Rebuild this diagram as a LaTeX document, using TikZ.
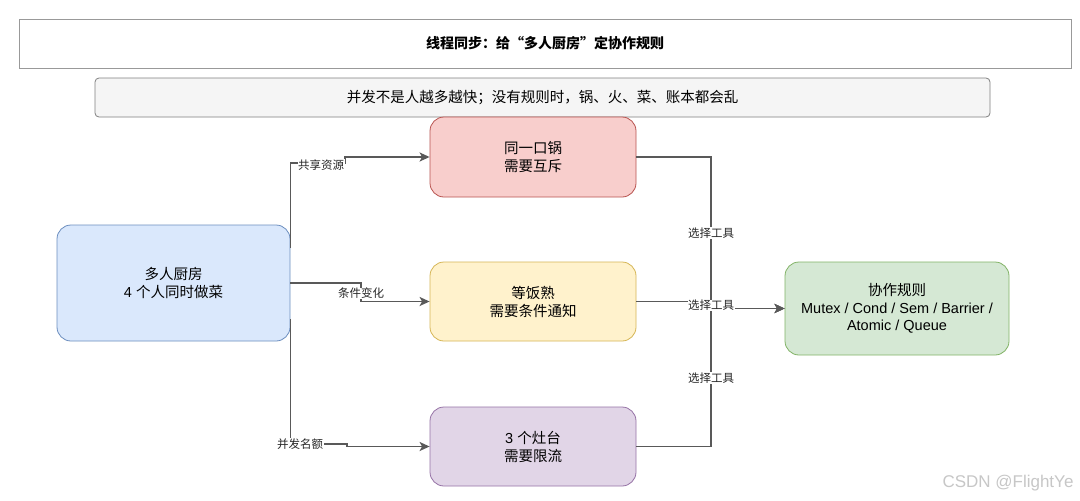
\documentclass[tikz,border=0pt]{standalone}
\usepackage{fontspec}
\setmainfont{Liberation Sans}
\newfontfamily\cjk{Noto Sans CJK SC}
\usetikzlibrary{arrows.meta}
\definecolor{lineg}{HTML}{595959}
\definecolor{bluef}{HTML}{DAE8FC}\definecolor{blued}{HTML}{6C8EBF}
\definecolor{redf}{HTML}{F8CECC}\definecolor{redd}{HTML}{B85450}
\definecolor{yelf}{HTML}{FFF2CC}\definecolor{yeld}{HTML}{D6B656}
\definecolor{purf}{HTML}{E1D5E7}\definecolor{purd}{HTML}{9673A6}
\definecolor{grnf}{HTML}{D5E8D4}\definecolor{grnd}{HTML}{82B366}
\begin{document}
\begin{tikzpicture}[x=1pt,y=-1pt,
  box/.style={draw, rounded corners=14pt, line width=0.8pt, align=center, inner sep=0pt,
    font=\fontsize{14.5}{18}\selectfont},
  arr/.style={draw=lineg, line width=1.8pt, -{Stealth[length=10pt,width=9pt,inset=2.5pt]}},
  lbl/.style={fill=white, inner sep=0.5pt, font=\cjk\fontsize{11.5}{13}\selectfont, text=black!85}]
\useasboundingbox (0,0) rectangle (1080,501);
\fill[white] (0,0) rectangle (1080,501);

\node[draw=black!40, line width=0.9pt, minimum width=1052pt, minimum height=49pt, inner sep=0pt,
  font=\cjk\bfseries\fontsize{14}{17}\selectfont] (title) at (545,43.5) {线程同步：给“多人厨房”定协作规则};
\node[draw=black!50, fill=black!4, rounded corners=4pt, line width=0.8pt, minimum width=895pt,
  minimum height=39pt, inner sep=0pt, font=\cjk\fontsize{14.5}{17}\selectfont] (sub) at (542.5,97.5)
  {并发不是人越多越快；没有规则时，锅、火、菜、账本都会乱};

\node[box, fill=bluef, draw=blued, minimum width=233pt, minimum height=116pt] (blue) at (173.5,283)
  {{\cjk 多人厨房}\\4 {\cjk 个人同时做菜}};
\node[box, fill=redf, draw=redd, minimum width=206pt, minimum height=80pt] (red) at (533,157)
  {\cjk 同一口锅\\\cjk 需要互斥};
\node[box, fill=yelf, draw=yeld, minimum width=206pt, minimum height=79pt] (yel) at (533,301.5)
  {\cjk 等饭熟\\\cjk 需要条件通知};
\node[box, fill=purf, draw=purd, minimum width=206pt, minimum height=79pt] (pur) at (533,446.5)
  {3 {\cjk 个灶台}\\\cjk 需要限流};
\node[box, fill=grnf, draw=grnd, minimum width=224pt, minimum height=93pt,
  font=\fontsize{14.5}{17.5}\selectfont] (grn) at (897,308.5)
  {{\cjk 协作规则}\\Mutex / Cond / Sem / Barrier /\\Atomic / Queue};

\coordinate (j1) at (345,163);
\coordinate (j2) at (361,283);
\coordinate (j3) at (347,444);
\coordinate (jr) at (711,308.5);

\draw[arr] ([yshift=35pt]blue.east) |- (j1) |- (red.west);
\draw[arr] (blue.east) -- (j2) |- (yel.west);
\draw[arr] ([yshift=-36pt]blue.east) |- (j3) |- (pur.west);
\draw[arr] (red.east) -| (jr) -- (grn.west);
\draw[arr] (yel.east) -| (jr) -- (grn.west);
\draw[arr] (pur.east) -| (jr) -- (grn.west);

\node[lbl] (l1) at (321,165) {共享资源};
\node[lbl] (l2) at (361,293.5) {条件变化};
\node[lbl] (l3) at (300,444) {并发名额};
\node[lbl] (r1) at (711,233) {选择工具};
\node[lbl] (r2) at (711,305.5) {选择工具};
\node[lbl] (r3) at (711,378) {选择工具};

\node[text=black!22, font=\fontsize{17}{20}\selectfont, anchor=east] (wm) at (1077,483) {CSDN @FlightYe};
\end{tikzpicture}
\end{document}
